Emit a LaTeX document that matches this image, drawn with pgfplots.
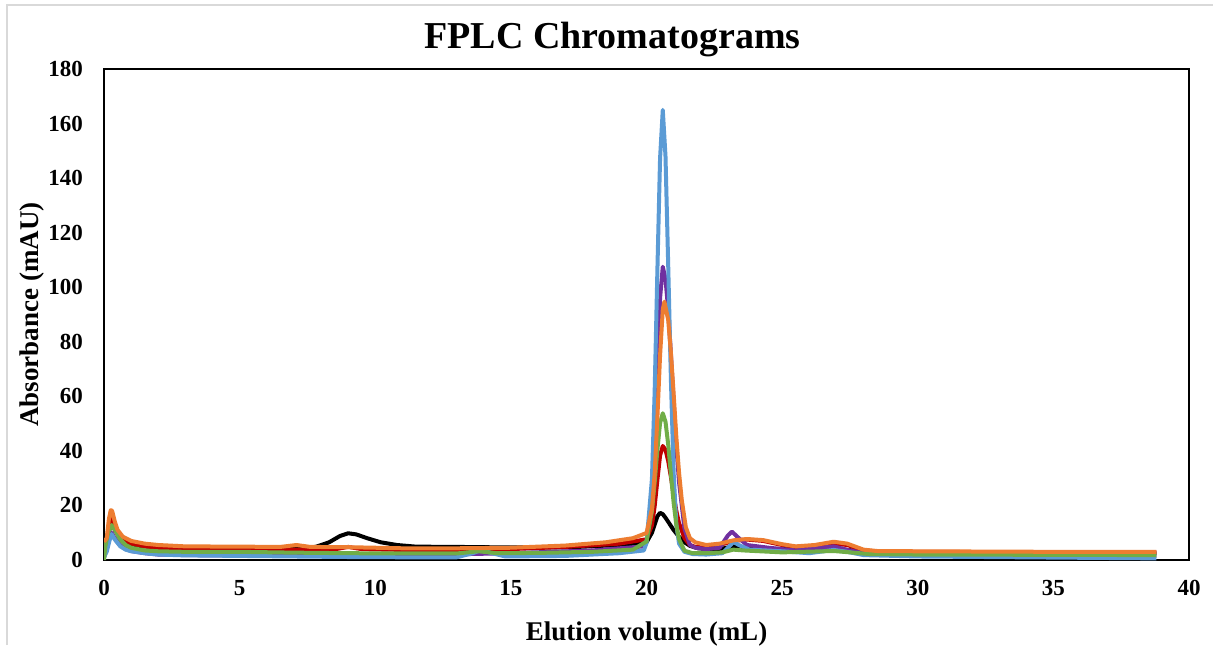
\documentclass[border=0pt]{standalone}
\usepackage{fontspec}
\setmainfont{Liberation Serif}
\usepackage{pgfplots}
\pgfplotsset{compat=1.18}
\definecolor{cblue}{HTML}{5B9BD5}
\definecolor{corange}{HTML}{ED7D31}
\definecolor{cgreen}{HTML}{70AD47}
\definecolor{cpurple}{HTML}{7030A0}
\definecolor{cred}{HTML}{C00000}
\definecolor{cframe}{HTML}{D9D9D9}
\begin{document}
\begin{tikzpicture}
\useasboundingbox (0,0) rectangle (606.5pt,322.5pt);
\fill[white] (0,0) rectangle (606.5pt,322.5pt);
\draw[cframe, line width=1pt] (3.5pt,0) -- (3.5pt,320pt) -- (606.5pt,320pt);
\begin{axis}[
  at={(52pt,42.5pt)}, anchor=south west,
  scale only axis, width=542.5pt, height=245.5pt,
  xmin=0, xmax=40, ymin=0, ymax=180,
  xtick={0,5,...,40}, ytick={0,20,...,180},
  major tick length=0pt,
  axis line style={line width=1pt, black},
  /pgf/number format/assume math mode=true,
  tick label style={font=\bfseries\fontsize{11.5}{13}\selectfont},
  yticklabel style={anchor=east, xshift=-7pt},
  xticklabel style={anchor=north, yshift=-6.5pt},
  title={FPLC Chromatograms},
  title style={font=\bfseries\fontsize{19}{22}\selectfont, at={(axis description cs:0.4687,1)}, anchor=base, yshift=4.5pt},
  xlabel={Elution volume (mL)},
  xlabel style={font=\bfseries\fontsize{13.5}{16}\selectfont, at={(axis description cs:0.5,0)}, anchor=base, yshift=-40pt},
  ylabel={Absorbance (mAU)},
  ylabel style={font=\bfseries\fontsize{13.5}{16}\selectfont, at={(axis description cs:-0.0664,0.5)}, anchor=center},
  every axis plot/.append style={line width=2pt, line join=round},
  clip=true,
]
% black
\addplot[black] coordinates {
(0,2) (0.1,6) (0.2,11) (0.28,14) (0.4,11) (0.6,8) (0.8,6.5) (1,5.5) (1.5,5) (2,4.7) (3,4.5) (5,4.3) (7,4.3) (7.8,4.8) (8.3,6.5) (8.7,8.8) (9.0,9.8) (9.3,9.4) (9.7,8) (10.2,6.5) (10.8,5.5) (11.5,4.9) (13,4.8) (15,4.6) (17,4.6) (19,5.5) (20.0,6.5) (20.2,10) (20.3,13) (20.4,16) (20.5,17.3) (20.6,16.8) (20.7,15.5) (20.8,14) (20.9,12.5) (21.0,11) (21.2,8.5) (21.4,6.5) (21.6,5.2) (21.9,4.3) (22.3,4) (22.7,4) (23.2,5) (23.6,4.5) (24.5,4.2) (25.5,3.8) (26.9,4) (27.5,3.6) (28.2,3) (30,2.8) (35,2.5) (38.8,2.4)
};
% red
\addplot[cred] coordinates {
(0,3) (0.1,7) (0.2,13) (0.28,16) (0.4,12.5) (0.6,9) (0.8,7) (1,6) (1.5,5) (2,4.5) (3,4) (5,3.8) (7,3.8) (8.5,3.9) (9,4.8) (9.5,4) (11,3.7) (13,3.7) (15,4) (17,4.8) (19,6) (20.0,7.6) (20.2,12.7) (20.3,19.6) (20.4,29.2) (20.5,38.3) (20.6,41.8) (20.7,40.4) (20.8,36.3) (20.9,30.4) (21.0,24) (21.1,18) (21.2,13.5) (21.4,8) (21.6,5.5) (21.8,4.8) (22.2,4.5) (22.7,5.5) (23.2,7) (23.7,7.5) (24.3,7) (25.0,5.5) (25.5,4.8) (26.2,5) (26.9,6) (27.4,5.5) (28,3.5) (28.5,3.2) (30,3) (35,2.8) (38.8,2.8)
};
% purple
\addplot[cpurple] coordinates {
(0,1) (0.1,4) (0.2,8) (0.28,10) (0.4,8) (0.6,5.5) (0.8,4) (1,3.3) (1.5,2.5) (2,2) (3,1.8) (5,1.6) (10,1.5) (15,2.5) (18,3.5) (19.9,5) (20.0,6.7) (20.2,21.6) (20.3,41.7) (20.4,69.8) (20.5,96) (20.6,107.5) (20.7,103) (20.8,91.7) (20.9,75.4) (21.0,58) (21.1,41.7) (21.2,28.5) (21.4,11.5) (21.6,5.5) (21.8,4.5) (22.2,4) (22.7,4.5) (23.0,9) (23.15,10.4) (23.35,8.5) (23.7,5.5) (24.5,4.5) (25.5,3.5) (26.9,5) (27.5,3.5) (28.2,2.2) (30,2) (35,1.6) (38.8,1.5)
};
% blue
\addplot[cblue] coordinates {
(0,1) (0.1,3) (0.2,7) (0.28,9.5) (0.4,7.5) (0.6,5) (0.8,3.8) (1.0,3.2) (1.5,2.5) (2,2) (3,1.7) (5,1.5) (7,1.3) (9,1.1) (11,1.0) (13,1.0) (13.6,2.5) (13.9,3.7) (14.3,2.5) (14.8,1.3) (17,1.5) (19,2.5) (19.9,3.5) (20.0,6.2) (20.2,29.7) (20.3,61.5) (20.4,105.7) (20.5,147.3) (20.6,165) (20.7,148) (20.8,108) (20.9,66) (21.0,32) (21.1,13) (21.2,6) (21.4,3) (21.7,2.2) (22.2,2) (22.8,2.5) (23.1,5.5) (23.2,6.7) (23.4,5.5) (23.8,3.8) (25,3.2) (26,2.5) (26.9,3.7) (27.4,3) (28,1.8) (30,1.3) (35,0.9) (38.8,0.6)
};
% green
\addplot[cgreen] coordinates {
(0,0) (0.05,5) (0.15,10) (0.28,12.8) (0.4,11) (0.6,7.5) (0.8,5.5) (1,4.5) (1.5,3.5) (2,3.2) (3,3) (5,3) (7,2.7) (9,2.5) (11,2.4) (13,2.4) (13.8,3.2) (14.5,2.5) (16,2.6) (18,3) (19.5,3.8) (20.0,6.8) (20.2,17.9) (20.3,28.3) (20.4,40.3) (20.5,50.2) (20.6,53.8) (20.7,50.7) (20.8,42.3) (20.9,31.4) (21.0,21) (21.1,12.8) (21.2,7.6) (21.4,3.4) (21.7,2.5) (22.2,2.5) (22.8,2.8) (23.2,3.8) (23.6,3.5) (25,2.8) (26.9,3.3) (27.5,2.8) (28.2,2.2) (30,2) (35,1.9) (38.8,1.8)
};
% orange
\addplot[corange] coordinates {
(0,6.7) (0.1,8) (0.18,15) (0.25,18.3) (0.3,18) (0.4,14) (0.5,11) (0.7,8.5) (1.0,7) (1.5,6) (2,5.5) (3,5) (5,4.9) (6.5,4.8) (7.1,5.5) (7.6,4.8) (9,4.7) (11,4.3) (13,4.3) (15,4.5) (17,5.3) (18.5,6.5) (19.5,8) (20.0,9.9) (20.2,18.7) (20.3,31.5) (20.4,52) (20.5,75) (20.6,91.8) (20.66,94.7) (20.8,88) (20.9,76) (21.0,61) (21.1,45) (21.2,32) (21.3,22) (21.45,12) (21.6,8) (21.8,6.5) (22.2,5.5) (22.7,6) (23.2,7.2) (23.7,7.7) (24.3,7.3) (25.0,5.8) (25.5,5) (26.2,5.5) (26.9,6.7) (27.4,6) (28.0,3.8) (28.5,3.3) (30,3.2) (35,3.0) (38.8,3.0)
};
\end{axis}
\end{tikzpicture}
\end{document}
